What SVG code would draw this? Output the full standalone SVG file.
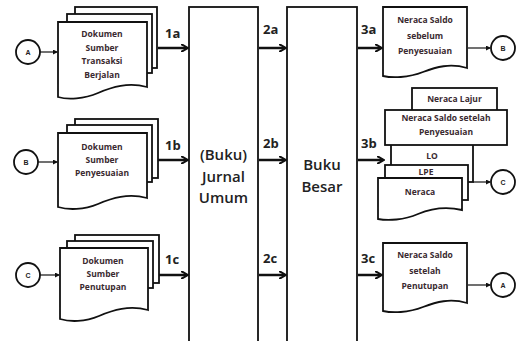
<svg xmlns="http://www.w3.org/2000/svg" width="520" height="341" viewBox="0 0 520 341">
<style>
.s{fill:#fff;stroke:#111;stroke-width:1.8}
.t{font-family:"Open Sans","Liberation Sans",sans-serif;font-size:8.5px;font-weight:bold;fill:#3a2a30;text-anchor:middle}
.big{font-family:"Open Sans","Liberation Sans",sans-serif;font-size:15px;font-weight:600;fill:#222;text-anchor:middle}
.lb{font-family:"Open Sans","Liberation Sans",sans-serif;font-size:13px;font-weight:bold;fill:#222}
.ct{font-family:"Liberation Sans",sans-serif;font-size:7px;font-weight:bold;fill:#222;text-anchor:middle}
.a{stroke:#111;stroke-width:2.5;fill:none;marker-end:url(#ah)}
.c{stroke:#111;stroke-width:1.2;fill:none;marker-end:url(#sm)}
</style>
<defs>
<marker id="ah" markerWidth="8" markerHeight="8" refX="6" refY="4" orient="auto" markerUnits="userSpaceOnUse"><path d="M0,0 L7,4 L0,8" fill="none" stroke="#111" stroke-width="2"/></marker>
<marker id="sm" markerWidth="5" markerHeight="5" refX="4" refY="2.5" orient="auto" markerUnits="userSpaceOnUse"><path d="M0,0 L5,2.5 L0,5 Z" fill="#111"/></marker>
</defs>
<g id="circleA1"><circle class="s" cx="28" cy="52" r="12"/><text class="ct" x="28" y="54.5">A</text></g>
<g id="circleB1"><circle class="s" cx="26" cy="162" r="12"/><text class="ct" x="26" y="164.5">B</text></g>
<g id="circleC1"><circle class="s" cx="28" cy="275" r="12"/><text class="ct" x="28" y="277.5">C</text></g>
<g id="docA">
<rect class="s" x="75" y="7" width="82" height="61"/>
<rect class="s" x="67" y="14" width="85" height="59"/>
<path class="s" d="M58,22 H147 V87 C128,82 112,87 98,93 C84,99 68,100 58,97 Z"/>
<text class="t" x="102" y="37">Dokumen</text>
<text class="t" x="102" y="51">Sumber</text>
<text class="t" x="102" y="64">Transaksi</text>
<text class="t" x="102" y="78">Berjalan</text>
</g>
<g id="docB">
<rect class="s" x="75" y="119" width="83" height="59"/>
<rect class="s" x="67" y="125" width="85" height="57"/>
<path class="s" d="M58,133 H147 V198 C128,193 112,198 98,204 C84,210 68,210 58,207 Z"/>
<text class="t" x="102" y="150">Dokumen</text>
<text class="t" x="102" y="163">Sumber</text>
<text class="t" x="102" y="176">Penyesuaian</text>
</g>
<g id="docC">
<rect class="s" x="75" y="235" width="84" height="48"/>
<rect class="s" x="67" y="241" width="86" height="47"/>
<path class="s" d="M60,248 H148 V310 C129,305 113,310 99,316 C85,322 70,322 60,319 Z"/>
<text class="t" x="103" y="264">Dokumen</text>
<text class="t" x="103" y="277">Sumber</text>
<text class="t" x="103" y="290">Penutupan</text>
</g>
<g id="jurnal">
<rect class="s" x="189" y="7" width="69" height="340"/>
<text class="big" x="223.5" y="160">(Buku)</text>
<text class="big" x="223.5" y="182">Jurnal</text>
<text class="big" x="223.5" y="203">Umum</text>
</g>
<g id="besar">
<rect class="s" x="287" y="7" width="70" height="340"/>
<text class="big" x="322" y="170">Buku</text>
<text class="big" x="322" y="192">Besar</text>
</g>
<g id="nsSebelum">
<path class="s" d="M383,7 H467 V68 C450,63 436,67 423,72 C408,78 392,78 383,76 Z"/>
<text class="t" x="425" y="23">Neraca Saldo</text>
<text class="t" x="425" y="39">sebelum</text>
<text class="t" x="425" y="54">Penyesuaian</text>
</g>
<g id="circleB2"><circle class="s" cx="503" cy="48" r="12"/><text class="ct" x="503" y="50.5">B</text></g>
<g id="lapkeu">
<rect class="s" x="412" y="88" width="85" height="30"/>
<text class="t" x="454.5" y="102">Neraca Lajur</text>
<rect class="s" x="391" y="140" width="82" height="42"/>
<text class="t" x="432" y="159">LO</text>
<rect class="s" x="385" y="165" width="83" height="35"/>
<text class="t" x="426" y="175">LPE</text>
<path class="s" d="M378,178 H462 V210 C445,206 430,209 418,214 C404,220 388,221 378,219 Z"/>
<text class="t" x="420" y="195">Neraca</text>
<rect class="s" x="385" y="110" width="122" height="35"/>
<text class="t" x="446" y="121">Neraca Saldo setelah</text>
<text class="t" x="446" y="135">Penyesuaian</text>
</g>
<g id="circleC2"><circle class="s" cx="503" cy="182" r="12"/><text class="ct" x="503" y="184.5">C</text></g>
<g id="nsSetelah">
<path class="s" d="M383,243 H467 V303 C450,298 436,302 423,307 C408,313 392,313 383,311 Z"/>
<text class="t" x="425" y="258">Neraca Saldo</text>
<text class="t" x="425" y="274">setelah</text>
<text class="t" x="425" y="289">Penutupan</text>
</g>
<g id="circleA2"><circle class="s" cx="503" cy="285" r="12"/><text class="ct" x="503" y="287.5">A</text></g>
<g id="connectors">
<line class="c" x1="40" y1="52" x2="57" y2="52"/>
<line class="c" x1="38" y1="162" x2="57" y2="162"/>
<line class="c" x1="40" y1="275" x2="59" y2="275"/>
<line class="a" x1="158" y1="48" x2="187" y2="48"/>
<line class="a" x1="158" y1="160" x2="187" y2="160"/>
<line class="a" x1="159" y1="275" x2="187" y2="275"/>
<line class="a" x1="259" y1="48" x2="285" y2="48"/>
<line class="a" x1="259" y1="160" x2="285" y2="160"/>
<line class="a" x1="259" y1="275" x2="285" y2="275"/>
<line class="a" x1="358" y1="48" x2="381" y2="48"/>
<line class="a" x1="358" y1="160" x2="383" y2="160"/>
<line class="a" x1="358" y1="275" x2="381" y2="275"/>
<line class="c" x1="468" y1="48" x2="490" y2="48"/>
<line class="c" x1="473" y1="182" x2="490" y2="182"/>
<line class="c" x1="468" y1="285" x2="490" y2="285"/>
<text class="lb" x="165" y="38">1a</text>
<text class="lb" x="165" y="150">1b</text>
<text class="lb" x="165" y="264">1c</text>
<text class="lb" x="263" y="34">2a</text>
<text class="lb" x="263" y="148">2b</text>
<text class="lb" x="263" y="263">2c</text>
<text class="lb" x="361" y="34">3a</text>
<text class="lb" x="361" y="148">3b</text>
<text class="lb" x="361" y="263">3c</text>
</g>
</svg>
